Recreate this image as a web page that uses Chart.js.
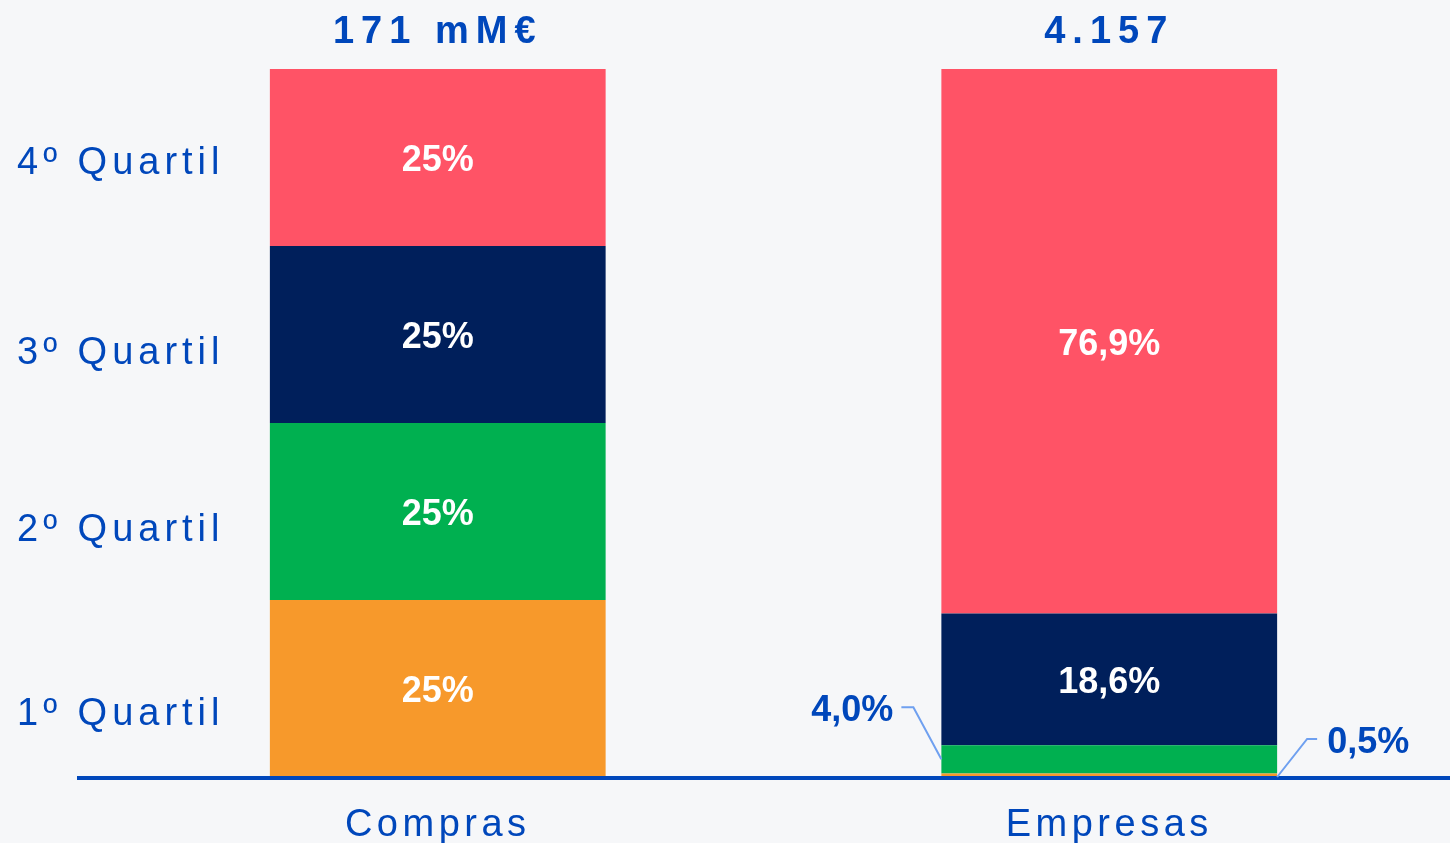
<!DOCTYPE html>
<html>
<head>
<meta charset="utf-8">
<script src="https://cdn.jsdelivr.net/npm/chart.js@4/dist/chart.umd.min.js"></script>
<style>
  html, body { margin: 0; padding: 0; background: #F6F7F9; }
  canvas { display: block; }
</style>
</head>
<body>
<canvas id="chartCanvas" width="1450" height="843"></canvas>
<script>
// categorias y totales
const categories = ["Compras", "Empresas"];
const totals = ["171 mM€", "4.157"];
const quartiles = ["1º Quartil", "2º Quartil", "3º Quartil", "4º Quartil"];

// % por cuartil (de abajo a arriba)
const q1 = [25, 0.5];
const q2 = [25, 4.0];
const q3 = [25, 18.6];
const q4 = [25, 76.9];
const decimals = [0, 1];

const blue = '#0047BB';
const colors = ['#F7992B', '#00B050', '#001F5B', '#FF5366'];

function fmt(v, i) {
    return v.toFixed(decimals[i]).replace('.', ',') + '%';
}

const textPlugin = {
    id: 'textPlugin',
    beforeDraw(chart) {
        const ctx = chart.ctx;
        ctx.save();
        ctx.fillStyle = '#F6F7F9';
        ctx.fillRect(0, 0, chart.width, chart.height);
        ctx.restore();
    },
    afterDatasetsDraw(chart) {
        const ctx = chart.ctx;
        const x = chart.scales.x, y = chart.scales.y;
        ctx.save();

        // linea base
        ctx.strokeStyle = blue;
        ctx.lineWidth = 4;
        ctx.beginPath();
        ctx.moveTo(77, y.bottom + 1);
        ctx.lineTo(chart.width, y.bottom + 1);
        ctx.stroke();

        ctx.fillStyle = blue;
        ctx.textBaseline = 'middle';

        // cuartiles a la izquierda
        ctx.font = '38px "Liberation Sans", Arial, sans-serif';
        ctx.letterSpacing = '5px';
        ctx.textAlign = 'left';
        const qPos = [9.3, 35.3, 60.2, 87.1];
        quartiles.forEach((q, i) => ctx.fillText(q, 17, y.getPixelForValue(qPos[i]) + 3));

        // categorias abajo
        ctx.letterSpacing = '4.5px';
        ctx.textAlign = 'center';
        categories.forEach((c, i) => ctx.fillText(c, x.getPixelForValue(i), 826));

        // totales arriba
        ctx.font = 'bold 38px "Liberation Sans", Arial, sans-serif';
        ctx.letterSpacing = '7px';
        totals.forEach((t, i) => ctx.fillText(t, x.getPixelForValue(i), 33));

        // etiquetas de datos
        ctx.letterSpacing = '0px';
        ctx.font = 'bold 36px "Liberation Sans", Arial, sans-serif';
        chart.data.datasets.forEach((ds, di) => {
            const meta = chart.getDatasetMeta(di);
            meta.data.forEach((bar, i) => {
                const v = ds.data[i];
                const txt = fmt(v, i);
                const h = Math.abs(bar.base - bar.y);
                if (h > 60) {
                    ctx.fillStyle = '#FFFFFF';
                    ctx.textAlign = 'center';
                    ctx.fillText(txt, bar.x, (bar.y + bar.base) / 2 + 4);
                } else {
                    const left = bar.x - bar.width / 2;
                    const right = bar.x + bar.width / 2;
                    ctx.strokeStyle = '#6FA0F0';
                    ctx.lineWidth = 2;
                    ctx.fillStyle = blue;
                    ctx.beginPath();
                    if (di === 1) {
                        const ay = (bar.y + bar.base) / 2;
                        ctx.moveTo(left, ay);
                        ctx.lineTo(left - 28, ay - 52);
                        ctx.lineTo(left - 40, ay - 52);
                        ctx.stroke();
                        ctx.textAlign = 'right';
                        ctx.fillText(txt, left - 48, ay - 48);
                    } else {
                        const ay = bar.base;
                        ctx.moveTo(right, ay);
                        ctx.lineTo(right + 30, ay - 38);
                        ctx.lineTo(right + 40, ay - 38);
                        ctx.stroke();
                        ctx.textAlign = 'left';
                        ctx.fillText(txt, right + 50, ay - 34);
                    }
                }
            });
        });
        ctx.restore();
    }
};

new Chart(document.getElementById('chartCanvas'), {
    type: 'bar',
    data: {
        labels: categories,
        datasets: [
            { label: quartiles[0], data: q1, backgroundColor: colors[0] },
            { label: quartiles[1], data: q2, backgroundColor: colors[1] },
            { label: quartiles[2], data: q3, backgroundColor: colors[2] },
            { label: quartiles[3], data: q4, backgroundColor: colors[3] }
        ]
    },
    options: {
        responsive: false,
        animation: false,
        layout: { padding: { left: 102, right: 5, top: 69, bottom: 66 } },
        datasets: { bar: { categoryPercentage: 1, barPercentage: 0.5, borderWidth: 0 } },
        plugins: { legend: { display: false }, tooltip: { enabled: false } },
        scales: {
            x: { stacked: true, display: false },
            y: { stacked: true, display: false, min: 0, max: 100 }
        }
    },
    plugins: [textPlugin]
});
</script>
</body>
</html>
